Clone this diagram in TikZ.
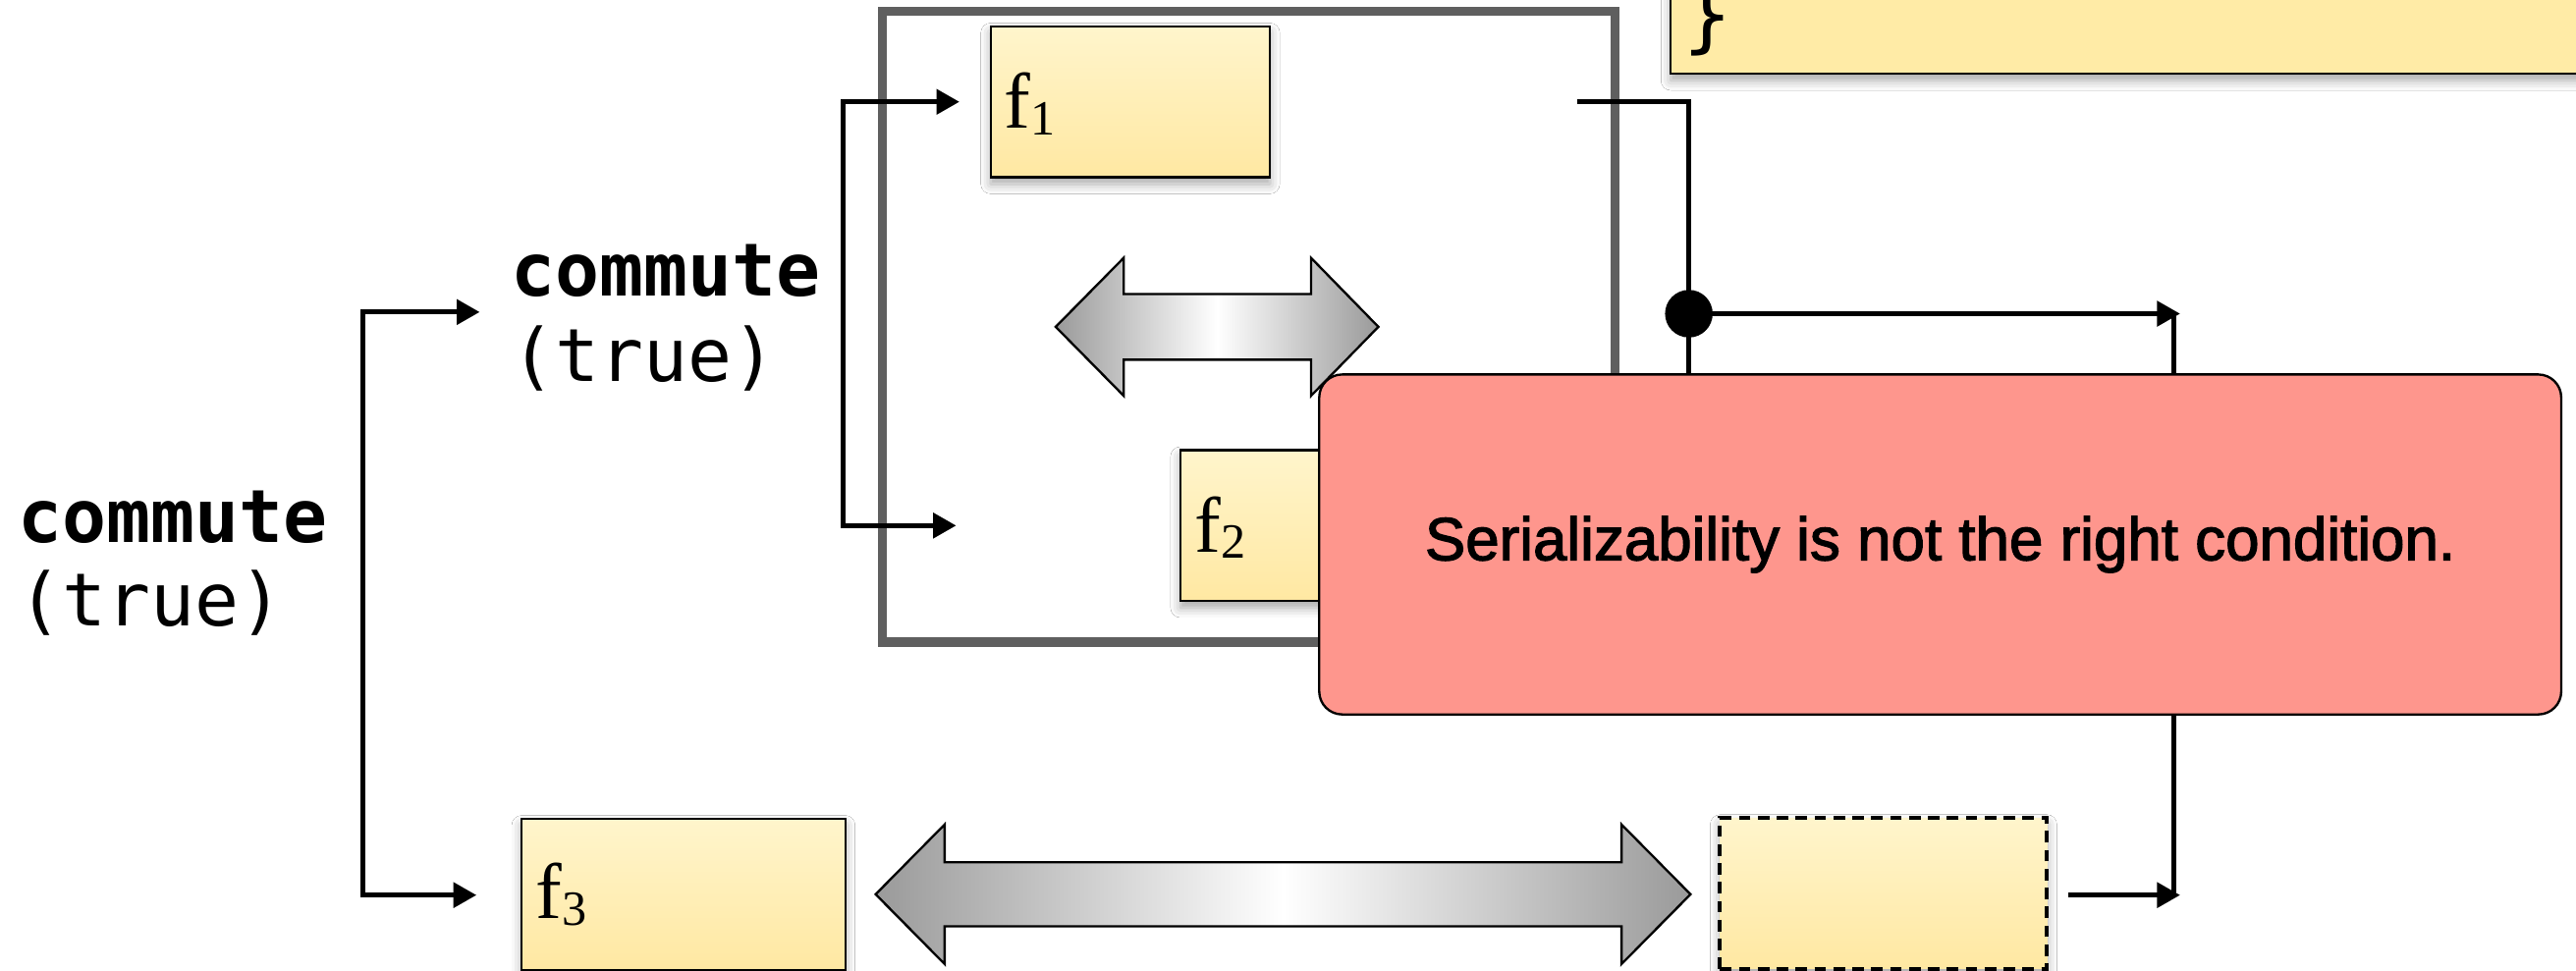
\documentclass[tikz,border=0pt]{standalone}
\usepackage{fontspec}
\setmainfont{Liberation Serif}
\newfontfamily\codefont{DejaVu Sans Mono}
\newfontfamily\notefont[FakeBold=2]{Liberation Sans}
\usetikzlibrary{arrows.meta,shadows.blur}

\definecolor{frameGray}{HTML}{5F5F5F}
\definecolor{boxTop}{HTML}{FFF5CC}
\definecolor{boxBot}{HTML}{FFE8A2}
\definecolor{codeFill}{HTML}{FFEBA6}
\definecolor{alertFill}{HTML}{FE968D}
\definecolor{bandEnd}{HTML}{9A9A9A}

\newcommand{\fsub}[1]{\raisebox{-4pt}{\fontsize{30}{30}\selectfont #1}}

\tikzset{
  tri/.tip={Triangle[length=14pt,width=15pt]},
  wire/.style={line width=3pt, black},
  softshadow/.style={blur shadow={shadow xshift=0pt, shadow yshift=-4pt,
      shadow blur radius=6pt, shadow opacity=35}},
  fbox/.style={draw=black, line width=1.4pt, top color=boxTop, bottom color=boxBot,
      minimum width=170pt, minimum height=92pt, inner sep=0pt, softshadow},
  dashbox/.style={draw=black, line width=2.4pt, dash pattern=on 7pt off 4.5pt,
      top color=boxTop, bottom color=boxBot, minimum width=199pt,
      minimum height=92pt, inner sep=0pt, softshadow},
  codebox/.style={draw=black, line width=1.4pt, fill=codeFill, inner sep=0pt, softshadow},
  flabel/.style={anchor=base west, inner sep=0pt, font=\fontsize{48}{56}\selectfont},
  kw/.style={anchor=base west, inner sep=0pt, font=\codefont\bfseries\fontsize{44.7}{52}\selectfont},
  arg/.style={anchor=base west, inner sep=0pt, font=\codefont\fontsize{44.7}{52}\selectfont},
  band/.style={draw=black, line width=1.4pt, left color=bandEnd, right color=bandEnd,
      middle color=white},
  alert/.style={draw=black, line width=1.4pt, fill=alertFill, rounded corners=14pt,
      minimum width=756pt, minimum height=207pt, inner sep=0pt,
      font=\notefont\fontsize{37}{44}\selectfont},
}

\begin{document}
\begin{tikzpicture}[x=1pt,y=-1pt]
\useasboundingbox (0,0) rectangle (1568,591);
\clip (0,0) rectangle (1568,591);
\fill[white] (0,0) rectangle (1568,591);

% grouping frame around f1 / f2
\draw[frameGray, line width=5.6pt] (537,7) rectangle (983,391);

% code box at the top right
\node[codebox, minimum width=622pt, minimum height=106pt] (code) at (1328,-8) {};
\node[anchor=base west, inner sep=0pt, font=\codefont\fontsize{50}{56}\selectfont]
  (brace) at (1024,26) {\}};

% outer fork: to the inner group and to f3
\coordinate (ot) at (292,190);
\coordinate (otc) at (221,190);
\coordinate (obc) at (221,545);
\coordinate (ob) at (290,545);
\draw[wire, tri-tri] (ot) -- (otc) -- (obc) -- (ob);

% inner fork: to f1 and f2
\coordinate (it) at (584,62);
\coordinate (itc) at (513,62);
\coordinate (ibc) at (513,320);
\coordinate (ib) at (582,320);
\draw[wire, tri-tri] (it) -- (itc) -- (ibc) -- (ib);

% labels
\node[kw] (c1a) at (11,330) {commute};
\node[arg] (c1b) at (11,381) {(true)};
\node[kw] (c2a) at (311,180.5) {commute};
\node[arg] (c2b) at (311,232) {(true)};

% function boxes
\node[fbox] (f1) at (688,62) {};
\node[flabel] (f1l) at (611,78) {f\fsub{1}};
\node[fbox] (f2) at (803.5,320) {};
\node[flabel] (f2l) at (727,336) {f\fsub{2}};
\node[fbox, minimum width=197pt] (f3) at (416,544.5) {};
\node[flabel] (f3l) at (326,559.5) {f\fsub{3}};
\node[dashbox] (ghost) at (1146.5,544) {};

% swap arrows
\path[band] (642.6,199) -- (684,157) -- (684,179) -- (798,179) -- (798,157)
  -- (839,199) -- (798,241) -- (798,219) -- (684,219) -- (684,241) -- cycle;
\path[band] (533,544.5) -- (575,502) -- (575,525) -- (987,525) -- (987,502)
  -- (1029,544.5) -- (987,587) -- (987,564) -- (575,564) -- (575,587) -- cycle;

% outputs on the right
\coordinate (o1) at (960,62);
\coordinate (o2) at (1028,62);
\coordinate (o3) at (1028,300);
\draw[wire] (o1) -- (o2) -- (o3);
\node[circle, fill=black, minimum size=29pt, inner sep=0pt] (dot) at (1028,191) {};
\coordinate (jt) at (1327,191);
\draw[wire, -tri] (dot.center) -- (jt);
\coordinate (vt) at (1323,191);
\coordinate (vb) at (1323,545);
\draw[wire] (vt) -- (vb);
\coordinate (gout) at (1259,545);
\coordinate (jb) at (1327,545);
\draw[wire, -tri] (gout) -- (jb);

% callout
\node[alert] (warn) at (1181,331.5) {Serializability is not the right condition.};
\end{tikzpicture}
\end{document}
